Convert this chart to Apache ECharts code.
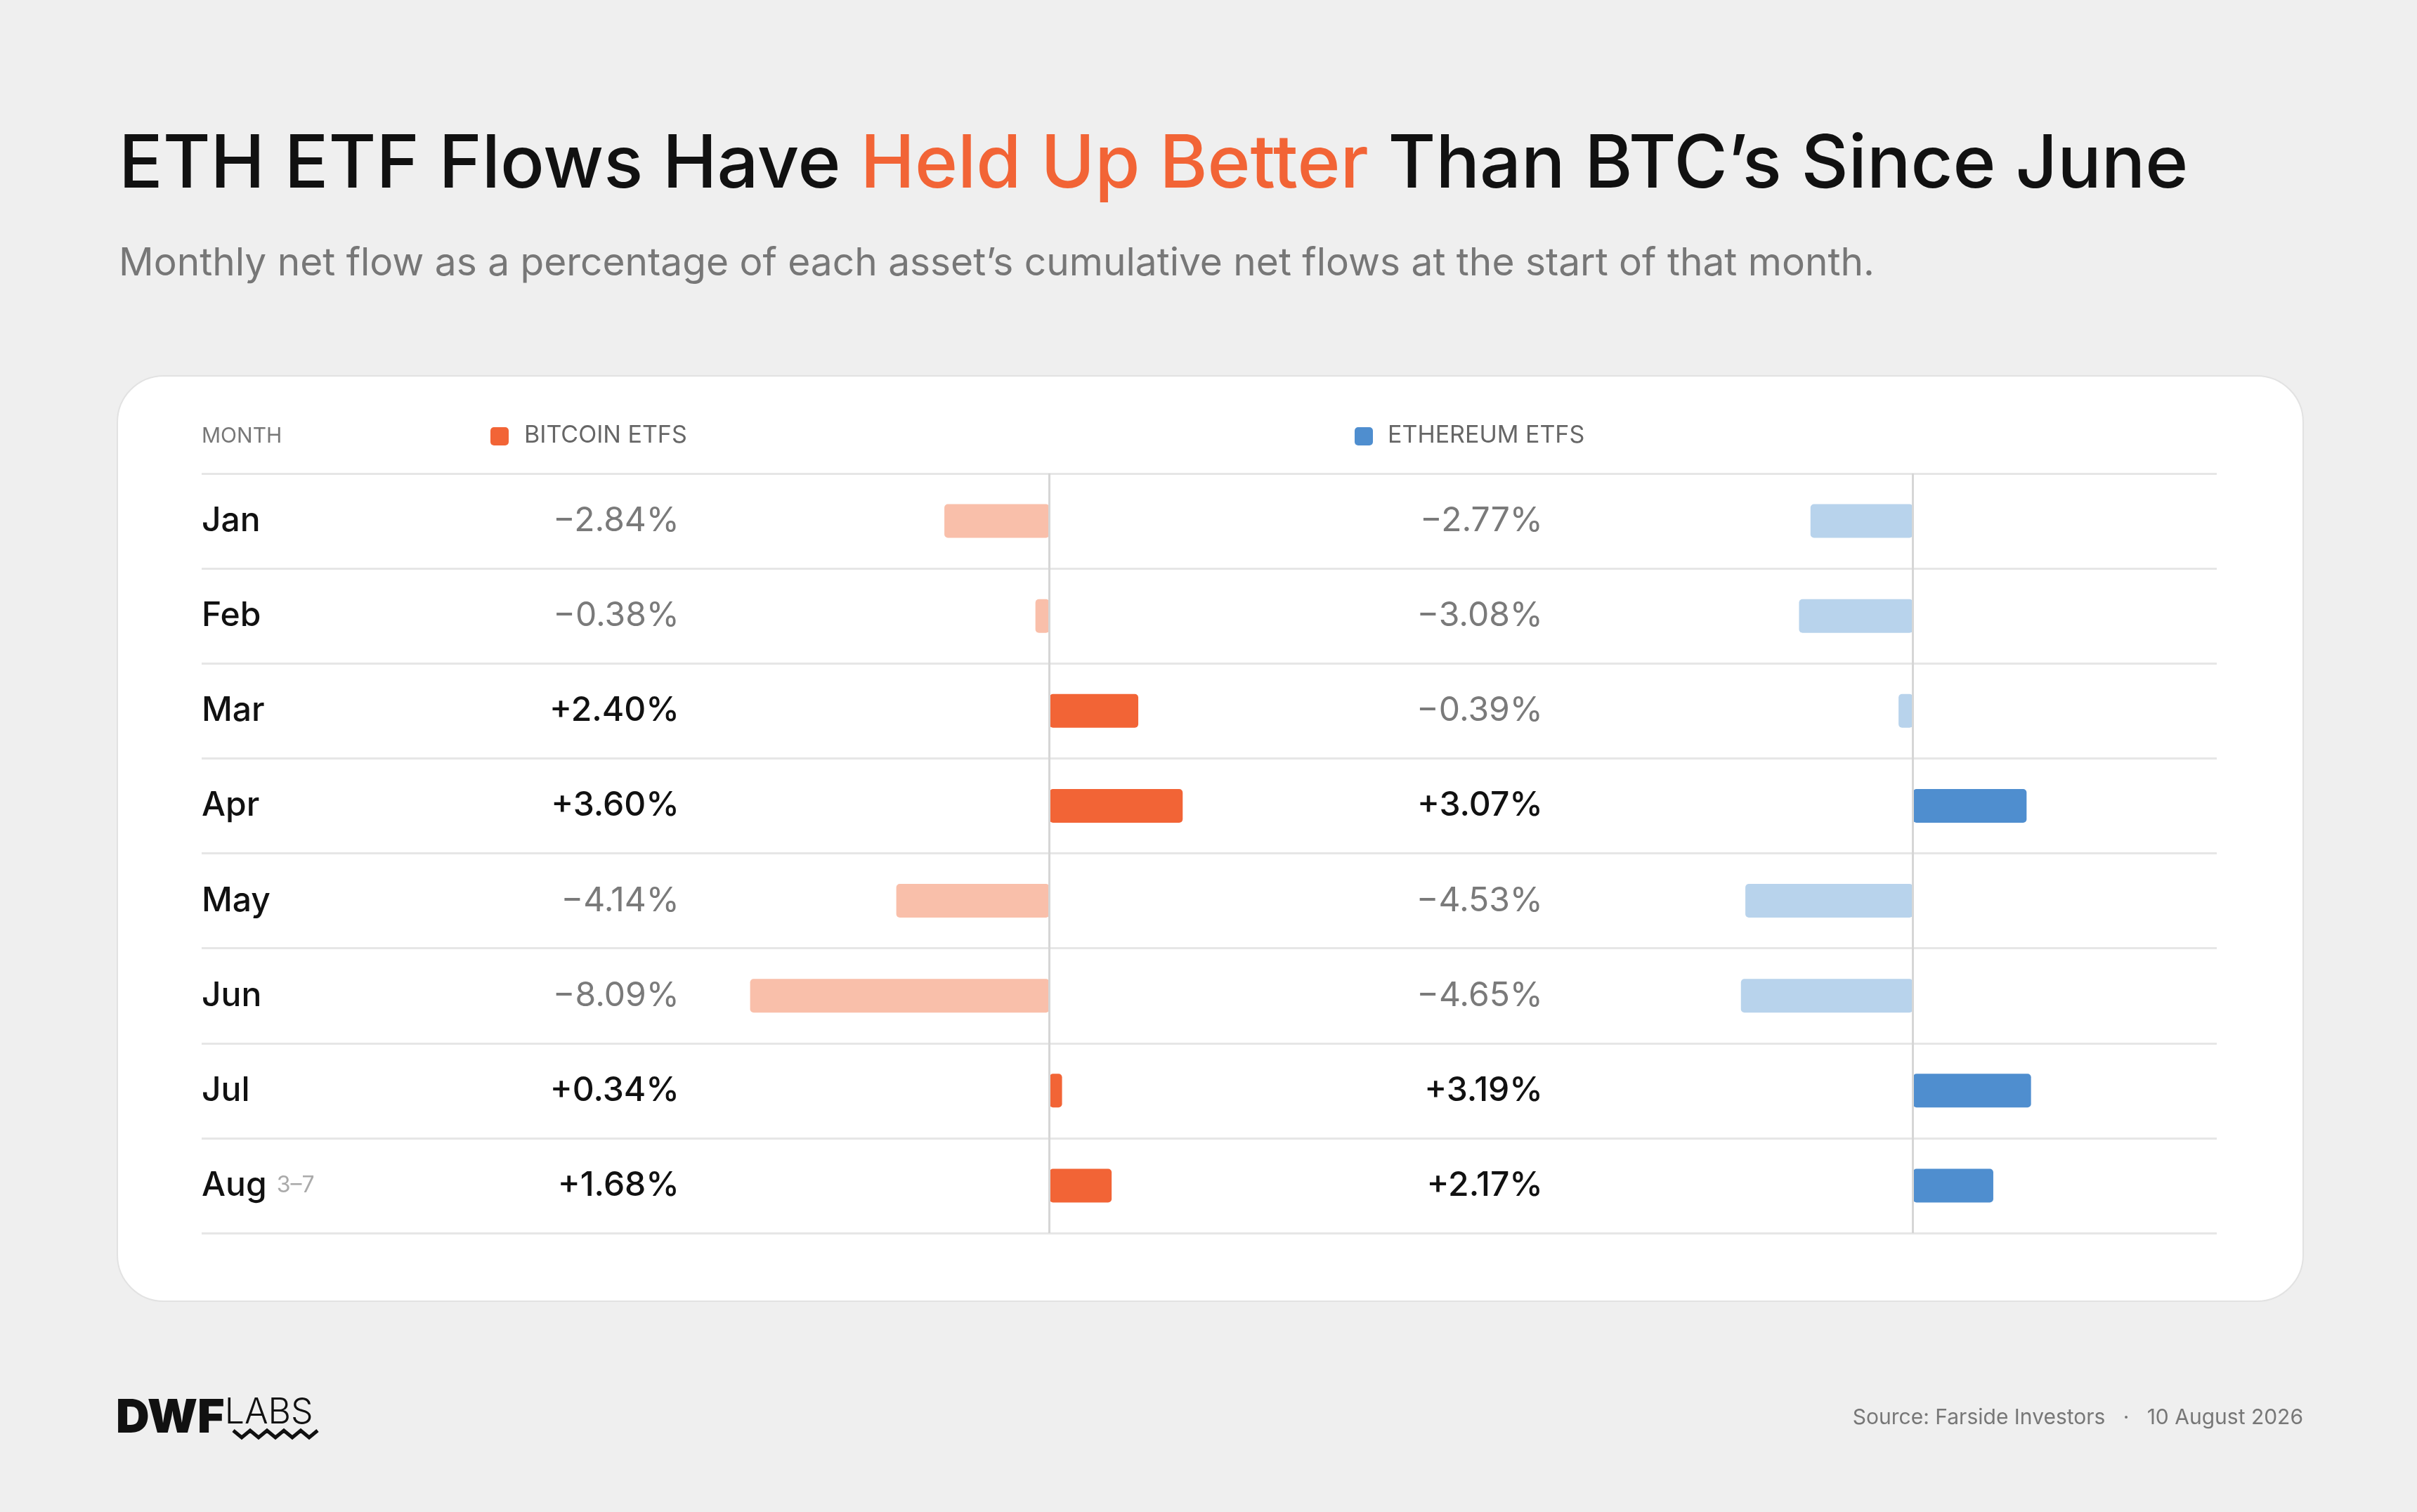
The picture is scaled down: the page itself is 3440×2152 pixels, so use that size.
<!DOCTYPE html>
<html>
<head>
<meta charset="utf-8">
<script src="https://cdn.jsdelivr.net/npm/echarts@6/dist/echarts.min.js"></script>
<style>
html, body { margin: 0; padding: 0; background: #efefef; }
#chart { width: 3440px; height: 2152px; }
</style>
</head>
<body>
<div id="chart"></div>
<script>
// 月度净流入占累计净流入百分比
var months = ['Jan', 'Feb', 'Mar', 'Apr', 'May', 'Jun', 'Jul', 'Aug'];
var btcFlow = [-2.84, -0.38, 2.40, 3.60, -4.14, -8.09, 0.34, 1.68];
var ethFlow = [-2.77, -3.08, -0.39, 3.07, -4.53, -4.65, 3.19, 2.17];

var FONT = 'Inter';
var TOP = 674, HEIGHT = 1081;

function fmt(v) {
    return (v > 0 ? '+' : '\u2212') + Math.abs(v).toFixed(2) + '%';
}

function barData(arr, pos, neg) {
    return arr.map(function(v) {
        return { value: v, itemStyle: { color: v >= 0 ? pos : neg } };
    });
}

function valueAxisLabel(arr) {
    return {
        fontFamily: FONT,
        margin: 0,
        formatter: function(val, idx) {
            var v = arr[idx];
            return '{' + (v >= 0 ? 'p' : 'n') + '|' + fmt(v) + '}';
        },
        rich: {
            p: { fontFamily: FONT, fontSize: 48, color: '#111111', fontWeight: 500 },
            n: { fontFamily: FONT, fontSize: 48, color: '#7a7a7a' }
        }
    };
}

var myChart = echarts.init(document.getElementById('chart'));

var option = {
    backgroundColor: '#efefef',
    animation: false,
    graphic: [
        { type: 'rect', z: -10, shape: { x: 167, y: 535, width: 3111, height: 1317, r: 66 },
          style: { fill: '#ffffff', stroke: '#e2e2e2', lineWidth: 2 } },
        { type: 'text', left: 169, top: 184, style: {
            text: '{a|ETH ETF Flows Have }{b|Held Up Better}{a| Than BTC\u2019s Since June}',
            rich: {
                a: { fontFamily: FONT, fontSize: 104, fontWeight: 500, fill: '#111111', letterSpacing: -6 },
                b: { fontFamily: FONT, fontSize: 104, fontWeight: 500, fill: '#f26436', letterSpacing: -6 }
            } } },
        { type: 'text', left: 169, top: 348, style: {
            text: 'Monthly net flow as a percentage of each asset\u2019s cumulative net flows at the start of that month.',
            fontFamily: FONT, fontSize: 55, fill: '#777777', letterSpacing: -1 } },
        // 表头
        { type: 'text', left: 287, top: 606, style: { text: 'MONTH', fontFamily: FONT, fontSize: 30, fill: '#777777', letterSpacing: 4 } },
        { type: 'rect', shape: { x: 698, y: 608, width: 26, height: 26, r: 5 }, style: { fill: '#f26436' } },
        { type: 'text', left: 746, top: 603, style: { text: 'BITCOIN ETFS', fontFamily: FONT, fontSize: 34, fill: '#666666', letterSpacing: 3 } },
        { type: 'rect', shape: { x: 1928, y: 608, width: 26, height: 26, r: 5 }, style: { fill: '#4f8ecf' } },
        { type: 'text', left: 1975, top: 603, style: { text: 'ETHEREUM ETFS', fontFamily: FONT, fontSize: 34, fill: '#666666', letterSpacing: 3 } },
        // 底部
        { type: 'text', left: 165, top: 1986, style: {
            text: '{d|DWF}{l|LABS}',
            rich: {
                d: { fontFamily: FONT, fontSize: 66, fontWeight: 900, fill: '#111111', letterSpacing: -3 },
                l: { fontFamily: FONT, fontSize: 50, fontWeight: 300, fill: '#111111', verticalAlign: 'top' }
            } } },
        { type: 'polyline', shape: { points: [[332, 2036], [344, 2046], [356, 2036], [368, 2046], [380, 2036], [392, 2046], [404, 2036], [416, 2046], [428, 2036], [440, 2046], [452, 2036]] },
          style: { stroke: '#111111', lineWidth: 5, fill: null } },
        { type: 'text', right: 162, top: 2003, style: {
            text: 'Source: Farside Investors   \u00b7   10 August 2026',
            fontFamily: FONT, fontSize: 30, fill: '#777777' } }
    ],
    grid: [
        { left: 287, width: 2868, top: TOP, height: HEIGHT },
        { left: 967, width: 790, top: TOP, height: HEIGHT },
        { left: 2196, width: 790, top: TOP, height: HEIGHT }
    ],
    xAxis: [
        { gridIndex: 0, type: 'value', show: false, min: 0, max: 1 },
        { gridIndex: 1, type: 'value', min: -10, max: 5, show: false },
        { gridIndex: 2, type: 'value', min: -10, max: 5, show: false }
    ],
    yAxis: [
        {
            gridIndex: 0, type: 'category', data: months, inverse: true,
            axisLine: { show: false }, axisTick: { show: false },
            splitLine: { show: true, lineStyle: { color: '#e6e6e6', width: 3 } },
            axisLabel: {
                inside: true, margin: 0,
                formatter: function(val) {
                    return val === 'Aug' ? '{m|Aug}{g| }{s|3\u20137}' : '{m|' + val + '}';
                },
                rich: {
                    m: { fontFamily: FONT, fontSize: 48, color: '#111111', fontWeight: 500 },
                    g: { fontSize: 32, width: 14 },
                    s: { fontFamily: FONT, fontSize: 32, color: '#aaaaaa' }
                }
            }
        },
        {
            gridIndex: 1, type: 'category', data: months, inverse: true,
            axisLine: { show: false }, axisTick: { show: false },
            axisLabel: valueAxisLabel(btcFlow)
        },
        {
            gridIndex: 2, type: 'category', data: months, inverse: true,
            axisLine: { show: false }, axisTick: { show: false },
            axisLabel: valueAxisLabel(ethFlow)
        }
    ],
    series: [
        {
            name: 'Bitcoin ETFs', type: 'bar', xAxisIndex: 1, yAxisIndex: 1,
            barWidth: 48, itemStyle: { borderRadius: 5 },
            data: barData(btcFlow, '#f26436', '#f9bfaa'),
            markLine: {
                symbol: 'none', silent: true, label: { show: false },
                lineStyle: { color: '#d6d6d6', width: 3, type: 'solid' },
                data: [{ xAxis: 0 }]
            }
        },
        {
            name: 'Ethereum ETFs', type: 'bar', xAxisIndex: 2, yAxisIndex: 2,
            barWidth: 48, itemStyle: { borderRadius: 5 },
            data: barData(ethFlow, '#4f8ecf', '#b8d3ec'),
            markLine: {
                symbol: 'none', silent: true, label: { show: false },
                lineStyle: { color: '#d6d6d6', width: 3, type: 'solid' },
                data: [{ xAxis: 0 }]
            }
        }
    ]
};

myChart.setOption(option);
</script>
</body>
</html>
